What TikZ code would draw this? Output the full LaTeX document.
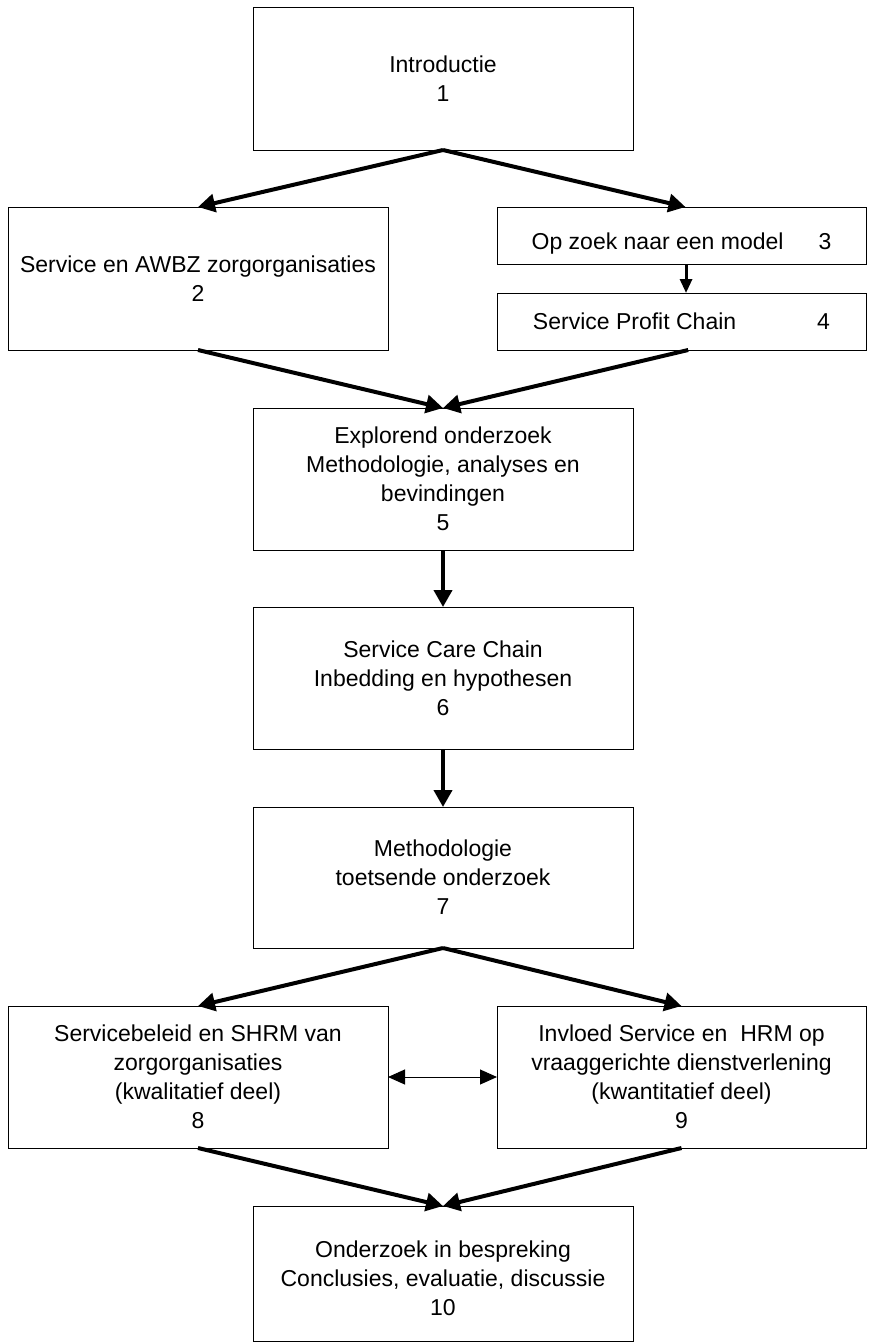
\documentclass[tikz,border=0pt]{standalone}
\usepackage{fontspec}
\setmainfont{Liberation Sans}
\usetikzlibrary{arrows.meta}
\begin{document}
\begin{tikzpicture}[x=0.75pt,y=-0.75pt,
  box/.style={draw=black, line width=0.75pt, rectangle, inner sep=0pt, outer sep=0pt,
    align=center, font=\fontsize{17.25}{21.75}\selectfont},
  txt/.style={inner sep=0pt, align=center, font=\fontsize{17.25}{21.75}\selectfont},
  widebox/.style={box, minimum width=285pt},
  sidebox/.style={box, minimum width=276.75pt},
  flow/.style={line width=3pt, -{Triangle[length=12.75pt,width=13.5pt]}},
  smallflow/.style={line width=2.25pt, -{Triangle[length=10.5pt,width=9pt]}},
  link/.style={line width=0.75pt, {Triangle[length=12.75pt,width=11.25pt]}-{Triangle[length=12.75pt,width=11.25pt]}}
]
\useasboundingbox (0,0) rectangle (868,1343);

% chapter boxes
\node[widebox, minimum height=107.25pt] (b1) at (443,78.5) {Introductie\\1};
\node[widebox, minimum height=107.25pt] (b2) at (198,278.5) {Service en AWBZ zorgorganisaties\\2};
\node[sidebox, minimum height=42.75pt] (b3) at (681.5,235.5) {};
\node[txt] (t3) at ([yshift=-6pt]b3.center) {Op zoek naar een model\hspace{26.25pt}3};
\node[sidebox, minimum height=42.75pt] (b4) at (681.5,321.5) {Service Profit Chain\hspace{60.75pt}4};
\node[widebox, minimum height=106.5pt] (b5) at (443,479) {Explorend onderzoek\\Methodologie, analyses en\\bevindingen\\5};
\node[widebox, minimum height=106.5pt] (b6) at (443,678) {Service Care Chain\\Inbedding en hypothesen\\6};
\node[widebox, minimum height=105.75pt] (b7) at (443,877.5) {Methodologie\\toetsende onderzoek\\7};
\node[widebox, minimum height=106.5pt] (b8) at (198,1077) {Servicebeleid en SHRM van\\zorgorganisaties\\(kwalitatief deel)\\8};
\node[sidebox, minimum height=106.5pt] (b9) at (681.5,1077) {Invloed Service en\ \ HRM op\\vraaggerichte dienstverlening\\(kwantitatief deel)\\9};
\node[widebox, minimum height=101.25pt] (b10) at (443,1273.5) {};
\node[txt] (t10) at ([yshift=-3.4pt]b10.center) {Onderzoek in bespreking\\Conclusies, evaluatie, discussie\\10};

% connectors
\draw[flow] (b1.south) -- (b2.north);
\draw[flow] (b1.south) -- ([xshift=3pt]b3.north);
\draw[smallflow] ([xshift=3.4pt]b3.south) -- ([xshift=3.4pt]b4.north);
\draw[flow] (b2.south) -- (b5.north);
\draw[flow] ([xshift=5pt]b4.south) -- (b5.north);
\draw[flow] (b5.south) -- (b6.north);
\draw[flow] (b6.south) -- (b7.north);
\draw[flow] (b7.south) -- (b8.north);
\draw[flow] (b7.south) -- (b9.north);
\draw[link] (b8.east) -- (b9.west);
\draw[flow] (b8.south) -- (b10.north);
\draw[flow] (b9.south) -- (b10.north);
\end{tikzpicture}
\end{document}
